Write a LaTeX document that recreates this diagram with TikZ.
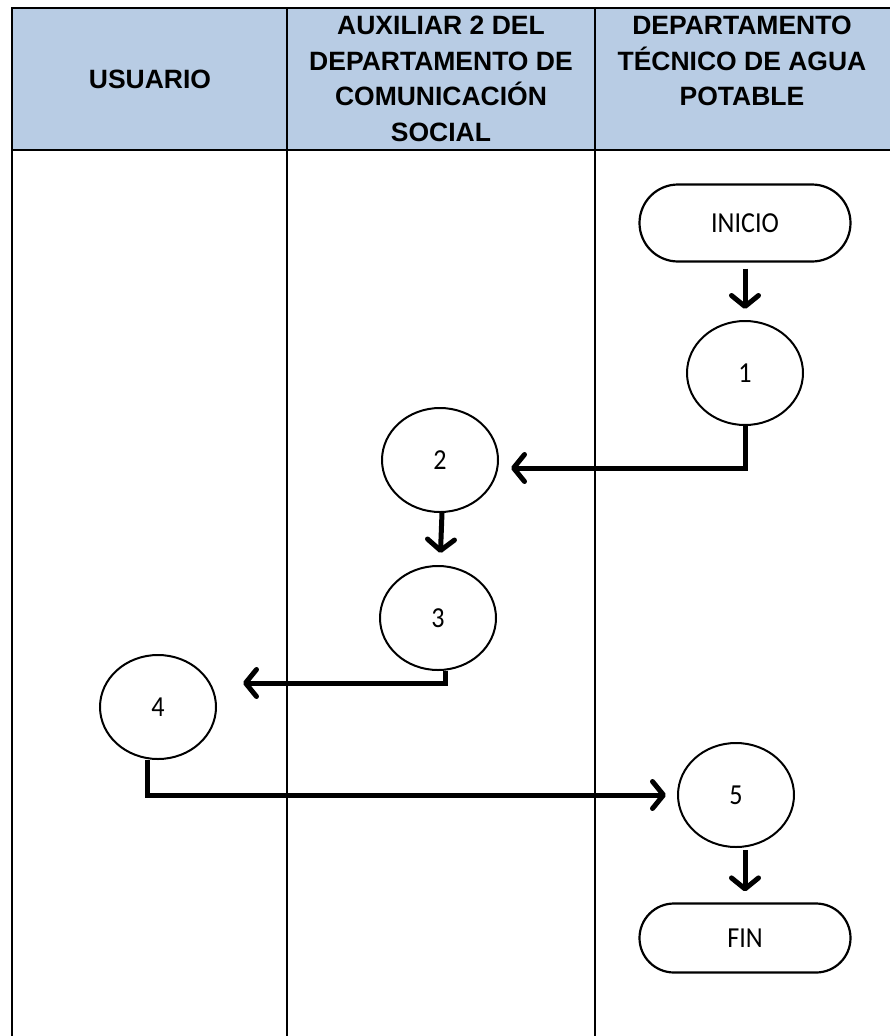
\documentclass[tikz,border=0pt]{standalone}
\usepackage{fontspec}
\setmainfont{Carlito}[FakeStretch=0.9]
\newfontfamily\hdrfont{Liberation Sans}
\usetikzlibrary{shapes.geometric,shapes.misc,arrows.meta}
\definecolor{hdrblue}{HTML}{B8CCE4}
\begin{document}
\begin{tikzpicture}[x=1pt,y=-1pt,
  lane/.style={line width=2pt},
  hdrtext/.style={font=\hdrfont\bfseries\fontsize{26.5}{35.5}\selectfont, align=center},
  stepcircle/.style={ellipse, draw, line width=2pt, minimum width=116pt, minimum height=104pt,
    inner sep=0pt, font=\fontsize{29}{32}\selectfont},
  terminal/.style={rounded rectangle, draw, line width=2.2pt, minimum width=211pt,
    inner sep=0pt, font=\fontsize{29}{32}\selectfont},
  flow/.style={line width=5pt, line cap=butt,
    -{Straight Barb[length=11pt, width=27pt, line width=5pt, round]}}
]
\useasboundingbox (0,0) rectangle (890,1036);

% header band and lane grid
\fill[hdrblue] (12,8) rectangle (892,150);
\draw[lane] (892,8) -- (12,8) -- (12,1040);
\draw[lane] (12,150) -- (892,150);
\draw[lane] (287,8) -- (287,1040);
\draw[lane] (595,8) -- (595,1040);

% lane titles
\node[hdrtext] (h1) at (150,79) {USUARIO};
\node[hdrtext] (h2) at (441,79) {AUXILIAR 2 DEL\\DEPARTAMENTO DE\\COMUNICACIÓN\\SOCIAL};
\node[hdrtext] (h3) at (742,61) {DEPARTAMENTO\\TÉCNICO DE AGUA\\POTABLE};

% process steps
\node[terminal, minimum height=77pt] (ini) at (745,223) {INICIO};
\node[stepcircle] (c1) at (745,373) {1};
\node[stepcircle] (c2) at (440,460) {2};
\node[stepcircle] (c3) at (438,618) {3};
\node[stepcircle] (c4) at (158,707) {4};
\node[stepcircle] (c5) at (736,795) {5};
\node[terminal, minimum height=69pt] (fin) at (745,938) {FIN};

% connectors
\draw[flow, shorten <=6pt, shorten >=11pt] (ini) -- (c1);
\draw[flow, shorten >=12pt] (c1.south) |- ([yshift=-8pt]c2.east);
\draw[flow, shorten >=12pt] ([xshift=2pt]c2.south) -- ([xshift=2pt]c3.north);
\draw[flow, shorten >=26pt] ([xshift=7pt]c3.south) |- ([yshift=24pt]c4.east);
\draw[flow, shorten >=11pt] ([xshift=-11pt]c4.south) |- (c5.west);
\draw[flow, shorten <=2pt, shorten >=11pt] (c5.south -| fin.north) -- (fin.north);
\end{tikzpicture}
\end{document}
